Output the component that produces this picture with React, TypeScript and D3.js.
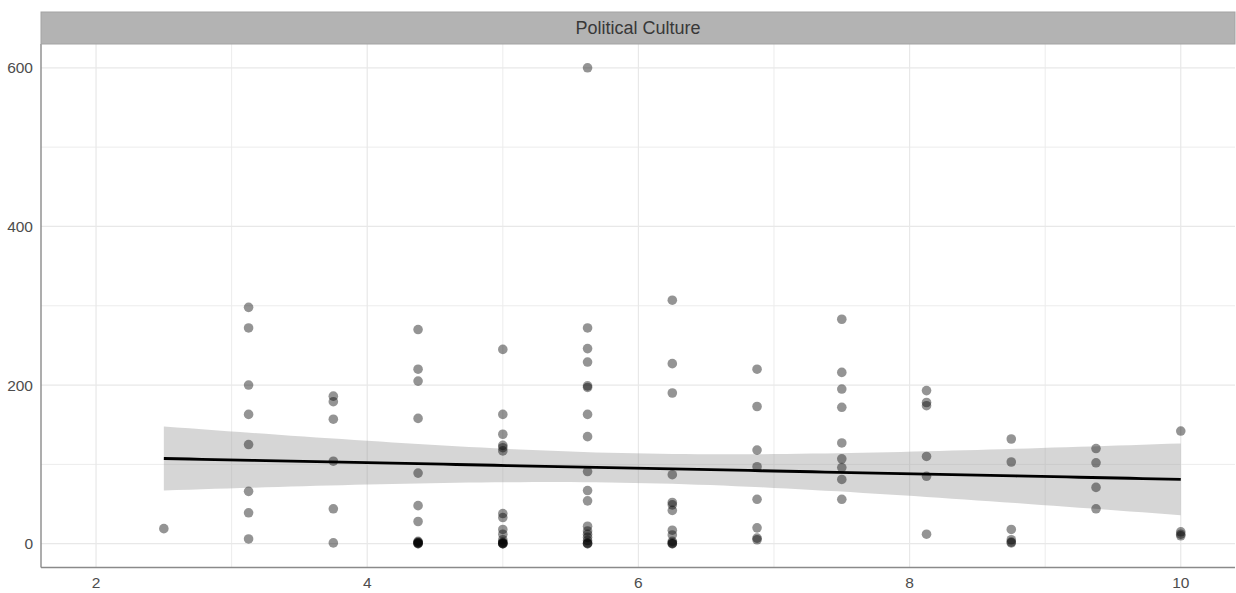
import React, { useEffect, useRef } from 'react';
import * as d3 from 'd3';

// culture score (x) columns and the values
const xLevels = [2.5, 3.125, 3.75, 4.375, 5, 5.625, 6.25, 6.875, 7.5, 8.125, 8.75, 9.375, 10];

const yByLevel = [
  [19],
  [298, 272, 200, 163, 125, 66, 39, 6],
  [186, 179, 157, 104, 44, 1],
  [270, 220, 205, 158, 89, 48, 28, 3, 2, 1, 1, 0, 0],
  [245, 163, 138, 124, 121, 117, 38, 33, 18, 12, 5, 2, 1, 0, 0, 0],
  [600, 272, 246, 229, 199, 197, 163, 135, 91, 67, 54, 22, 16, 12, 8, 4, 1, 0, 0],
  [307, 227, 190, 87, 52, 49, 42, 17, 11, 3, 1, 0, 0],
  [220, 173, 118, 97, 56, 20, 7, 5],
  [283, 216, 195, 172, 127, 107, 96, 81, 56],
  [193, 178, 174, 110, 85, 12],
  [132, 103, 18, 5, 2, 1],
  [120, 102, 71, 44],
  [142, 15, 12, 10],
];

const xTicks = [2, 4, 6, 8, 10];
const xMinorTicks = [3, 5, 7, 9];
const yTicks = [0, 200, 400, 600];
const yMinorTicks = [100, 300, 500];

const stripLabel = 'Political Culture';

type Pt = { x: number; y: number };

function App() {
  const svgRef = useRef<SVGSVGElement>(null);

  useEffect(() => {
    const width = 1236;
    const height = 593;
    const panel = { left: 41, right: 1235, top: 44, bottom: 567.5 };
    const font = '"Liberation Sans", Arial, Helvetica, sans-serif';

    const svg = d3.select(svgRef.current);
    svg.selectAll('*').remove();
    svg.attr('width', width).attr('height', height);

    const points: Pt[] = [];
    xLevels.forEach((xv, i) => yByLevel[i].forEach((yv) => points.push({ x: xv, y: yv })));

    const x = d3.scaleLinear().domain([1.594, 10.4]).range([panel.left, panel.right]);
    const y = d3.scaleLinear().domain([-30, 630]).range([panel.bottom, panel.top]);

    // background
    svg.append('rect').attr('width', width).attr('height', height).attr('fill', '#ffffff');

    // grid lines (minor then major)
    const grid = svg.append('g');
    grid
      .selectAll('line.vminor')
      .data(xMinorTicks)
      .enter()
      .append('line')
      .attr('x1', (d) => x(d))
      .attr('x2', (d) => x(d))
      .attr('y1', panel.top)
      .attr('y2', panel.bottom)
      .attr('stroke', '#ececec')
      .attr('stroke-width', 1);
    grid
      .selectAll('line.hminor')
      .data(yMinorTicks)
      .enter()
      .append('line')
      .attr('x1', panel.left)
      .attr('x2', panel.right)
      .attr('y1', (d) => y(d))
      .attr('y2', (d) => y(d))
      .attr('stroke', '#ececec')
      .attr('stroke-width', 1);
    grid
      .selectAll('line.vmajor')
      .data(xTicks)
      .enter()
      .append('line')
      .attr('x1', (d) => x(d))
      .attr('x2', (d) => x(d))
      .attr('y1', panel.top)
      .attr('y2', panel.bottom)
      .attr('stroke', '#e8e8e8')
      .attr('stroke-width', 1.2);
    grid
      .selectAll('line.hmajor')
      .data(yTicks)
      .enter()
      .append('line')
      .attr('x1', panel.left)
      .attr('x2', panel.right)
      .attr('y1', (d) => y(d))
      .attr('y2', (d) => y(d))
      .attr('stroke', '#e8e8e8')
      .attr('stroke-width', 1.2);

    // linear fit with 95% confidence band
    const n = points.length;
    const xbar = d3.mean(points, (d) => d.x) as number;
    const ybar = d3.mean(points, (d) => d.y) as number;
    const sxx = d3.sum(points, (d) => (d.x - xbar) ** 2);
    const sxy = d3.sum(points, (d) => (d.x - xbar) * (d.y - ybar));
    const slope = sxy / sxx;
    const intercept = ybar - slope * xbar;
    const sse = d3.sum(points, (d) => (d.y - (intercept + slope * d.x)) ** 2);
    const s = Math.sqrt(sse / (n - 2));
    const z = 1.959964;
    const df = n - 2;
    const tq = z + (z ** 3 + z) / (4 * df);

    const [xMin, xMax] = d3.extent(xLevels) as [number, number];
    const fit = d3.range(0, 81).map((i) => {
      const xv = xMin + ((xMax - xMin) * i) / 80;
      const fv = intercept + slope * xv;
      const se = s * Math.sqrt(1 / n + (xv - xbar) ** 2 / sxx);
      return { x: xv, y: fv, lo: fv - tq * se, hi: fv + tq * se };
    });

    svg
      .append('path')
      .datum(fit)
      .attr(
        'd',
        d3
          .area<(typeof fit)[number]>()
          .x((d) => x(d.x))
          .y0((d) => y(d.lo))
          .y1((d) => y(d.hi)),
      )
      .attr('fill', '#999999')
      .attr('fill-opacity', 0.4);

    // points
    svg
      .append('g')
      .selectAll('circle')
      .data(points)
      .enter()
      .append('circle')
      .attr('cx', (d) => x(d.x))
      .attr('cy', (d) => y(d.y))
      .attr('r', 4.8)
      .attr('fill', '#000000')
      .attr('fill-opacity', 0.42);

    svg
      .append('path')
      .datum(fit)
      .attr(
        'd',
        d3
          .line<(typeof fit)[number]>()
          .x((d) => x(d.x))
          .y((d) => y(d.y)),
      )
      .attr('fill', 'none')
      .attr('stroke', '#000000')
      .attr('stroke-width', 2.8);

    // axis lines
    svg
      .append('line')
      .attr('x1', panel.left)
      .attr('x2', panel.left)
      .attr('y1', panel.top)
      .attr('y2', panel.bottom)
      .attr('stroke', '#8a8a8a')
      .attr('stroke-width', 1.4);
    svg
      .append('line')
      .attr('x1', panel.left)
      .attr('x2', panel.right)
      .attr('y1', panel.bottom)
      .attr('y2', panel.bottom)
      .attr('stroke', '#8a8a8a')
      .attr('stroke-width', 1.4);

    // tick labels
    svg
      .append('g')
      .selectAll('text')
      .data(yTicks)
      .enter()
      .append('text')
      .attr('x', 33)
      .attr('y', (d) => y(d))
      .attr('dy', '0.36em')
      .attr('text-anchor', 'end')
      .style('font-family', font)
      .style('font-size', '15.5px')
      .style('fill', '#4d4d4d')
      .text((d) => d);

    svg
      .append('g')
      .selectAll('text')
      .data(xTicks)
      .enter()
      .append('text')
      .attr('x', (d) => x(d))
      .attr('y', 588)
      .attr('text-anchor', 'middle')
      .style('font-family', font)
      .style('font-size', '15.5px')
      .style('fill', '#4d4d4d')
      .text((d) => d);

    // facet strip
    svg
      .append('rect')
      .attr('x', panel.left)
      .attr('y', 12)
      .attr('width', panel.right - panel.left)
      .attr('height', panel.top - 12)
      .attr('fill', '#b3b3b3')
      .attr('stroke', '#a3a3a3')
      .attr('stroke-width', 1);

    svg
      .append('text')
      .attr('x', (panel.left + panel.right) / 2)
      .attr('y', 34.3)
      .attr('text-anchor', 'middle')
      .style('font-family', font)
      .style('font-size', '18px')
      .style('fill', '#383838')
      .text(stripLabel);
  }, []);

  return <svg ref={svgRef} style={{ position: 'absolute', left: 0, top: 0, display: 'block' }} />;
}

export default App;
